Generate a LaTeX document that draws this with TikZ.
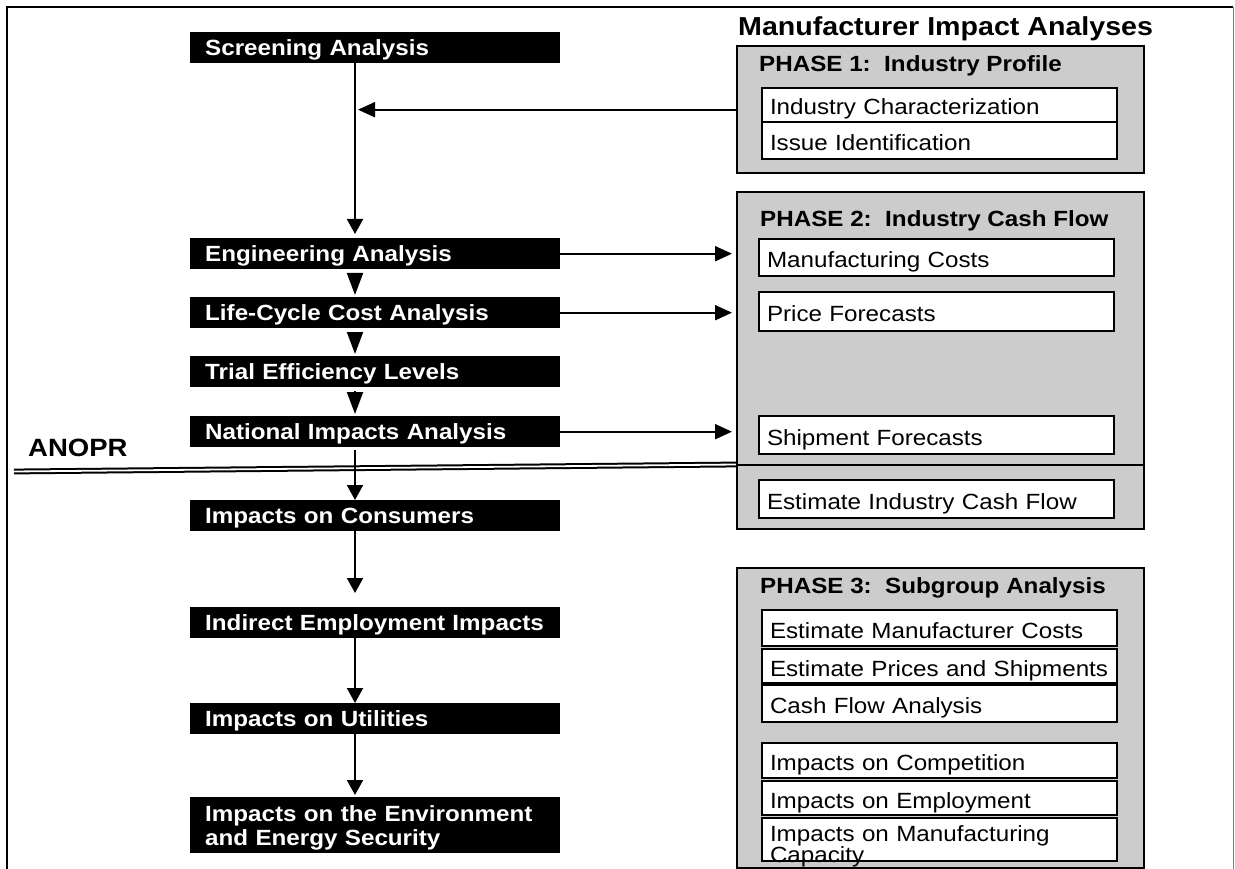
\documentclass[tikz,border=0pt]{standalone}
\usepackage{fontspec}
\setmainfont{Liberation Sans}[FakeStretch=1.1]
\usepackage{tikz}
\usetikzlibrary{arrows.meta,positioning}
\definecolor{phasegray}{gray}{0.8}
\newcommand{\boxfont}{\fontsize{22}{24}\selectfont}

\begin{document}
\begin{tikzpicture}[x=1pt,y=-1pt,
    stage/.style={fill=black,text=white,font=\boxfont\bfseries,anchor=north west,align=left,
                  text width=340pt,inner xsep=15pt,inner ysep=0pt,minimum height=31pt,
                  text height=16pt,text depth=0pt},
    phase/.style={draw,fill=phasegray,line width=2.4pt,anchor=north west,minimum width=407pt},
    item/.style={draw,fill=white,line width=2pt,anchor=north west,align=left,font=\boxfont,
                 text width=339pt,inner xsep=8pt,inner ysep=0pt,text height=20pt,text depth=0pt},
    head/.style={anchor=base west,inner sep=0pt,font=\boxfont\bfseries},
    down/.style={-{Triangle[length=15pt,width=16pt]},line width=2pt},
    flow/.style={-{Triangle[length=17pt,width=15pt]},line width=2pt},
    link/.style={-{Triangle[length=22pt,width=16pt]},line width=2pt,shorten <=4pt,shorten >=2pt}
  ]
    \useasboundingbox (0,0) rectangle (1235,869);
    \draw[line width=2pt] (7,869) -- (7,7) -- (1233,7);
    \draw[gray,line width=1pt] (1233,7) -- (1233,869);

    % analysis steps
    \node[stage] (scr) at (190,32)  {Screening Analysis};
    \node[stage] (eng) at (190,238) {Engineering Analysis};
    \node[stage] (lcc) at (190,297) {Life-Cycle Cost Analysis};
    \node[stage] (tel) at (190,356) {Trial Efficiency Levels};
    \node[stage] (nia) at (190,416) {National Impacts Analysis};
    \node[stage] (con) at (190,500) {Impacts on Consumers};
    \node[stage] (emp) at (190,607) {Indirect Employment Impacts};
    \node[stage] (utl) at (190,703) {Impacts on Utilities};
    \node[stage,minimum height=56pt,text height=16pt,text depth=24pt] (env) at (190,797)
        {Impacts on the Environment\\and Energy Security};

    \node[head,font=\fontsize{25}{28}\selectfont\bfseries] (anopr) at (28,456) {ANOPR};

    % manufacturer side
    \node[head,font=\fontsize{26}{28}\selectfont\bfseries] (mia) at (738,36) {Manufacturer Impact Analyses};

    \node[phase,minimum height=127pt] (ph1) at (736,45)  {};
    \node[phase,minimum height=337pt] (ph2) at (736,191) {};
    \node[phase,minimum height=300pt] (ph3) at (736,567) {};

    \node[head] (ph1t) at (759,72)  {PHASE 1:~~Industry Profile};
    \node[head] (ph2t) at (760,227) {PHASE 2:~~Industry Cash Flow};
    \node[head] (ph3t) at (760,593) {PHASE 3:~~Subgroup Analysis};

    \node[item,minimum height=34pt] (ich) at (761,87)  {Industry Characterization};
    \node[item,minimum height=37pt] (iid) at (761,121) {Issue Identification};

    \node[item,minimum height=37pt] (mfc) at (758,238) {Manufacturing Costs};
    \node[item,minimum height=39pt] (prc) at (758,291) {Price Forecasts};
    \node[item,minimum height=38pt] (shp) at (758,415) {Shipment Forecasts};
    \node[item,minimum height=38pt] (eic) at (758,479) {Estimate Industry Cash Flow};

    \node[item,minimum height=36pt] (emc) at (761,609) {Estimate Manufacturer Costs};
    \node[item,minimum height=34pt] (eps) at (761,648) {Estimate Prices and Shipments};
    \node[item,minimum height=37pt] (cfa) at (761,684) {Cash Flow Analysis};
    \node[item,minimum height=35pt] (ico) at (761,742) {Impacts on Competition};
    \node[item,minimum height=34pt] (iem) at (761,780) {Impacts on Employment};
    \node[item,minimum height=43pt,text height=16pt,text depth=13pt,font=\fontsize{22}{18}\selectfont] (imc) at (761,817)
        {Impacts on Manufacturing\\Capacity};

    % ANOPR cut
    \coordinate (cut) at (0,464.5);
    \draw[double,double distance=1.8pt,line width=2pt] (14,471.5) -- (ph2.west |- cut);
    \draw[line width=2pt] (ph2.west |- cut) -- (ph2.east |- cut);

    % arrows
    \coordinate (spine) at (355,0);
    \draw[down,shorten >=4pt] (scr.south -| spine) -- (eng.north -| spine);
    \draw[link] (eng.south -| spine) -- (lcc.north -| spine);
    \draw[link] (lcc.south -| spine) -- (tel.north -| spine);
    \draw[link] (tel.south -| spine) -- (nia.north -| spine);
    \draw[down,shorten <=3pt] (nia.south -| spine) -- (con.north -| spine);
    \draw[down,shorten >=14pt] (con.south -| spine) -- (emp.north -| spine);
    \draw[down] (emp.south -| spine) -- (utl.north -| spine);
    \draw[down,shorten >=2pt] (utl.south -| spine) -- (env.north -| spine);

    \draw[flow,shorten >=3pt] (ph1.west) -- (ph1.west -| spine);
    \draw[flow,shorten >=4pt] (eng.east) -- (eng.east -| ph2.west);
    \draw[flow,shorten >=4pt] (lcc.east) -- (lcc.east -| ph2.west);
    \draw[flow,shorten >=4pt] (nia.east) -- (nia.east -| ph2.west);
\end{tikzpicture}
\end{document}
